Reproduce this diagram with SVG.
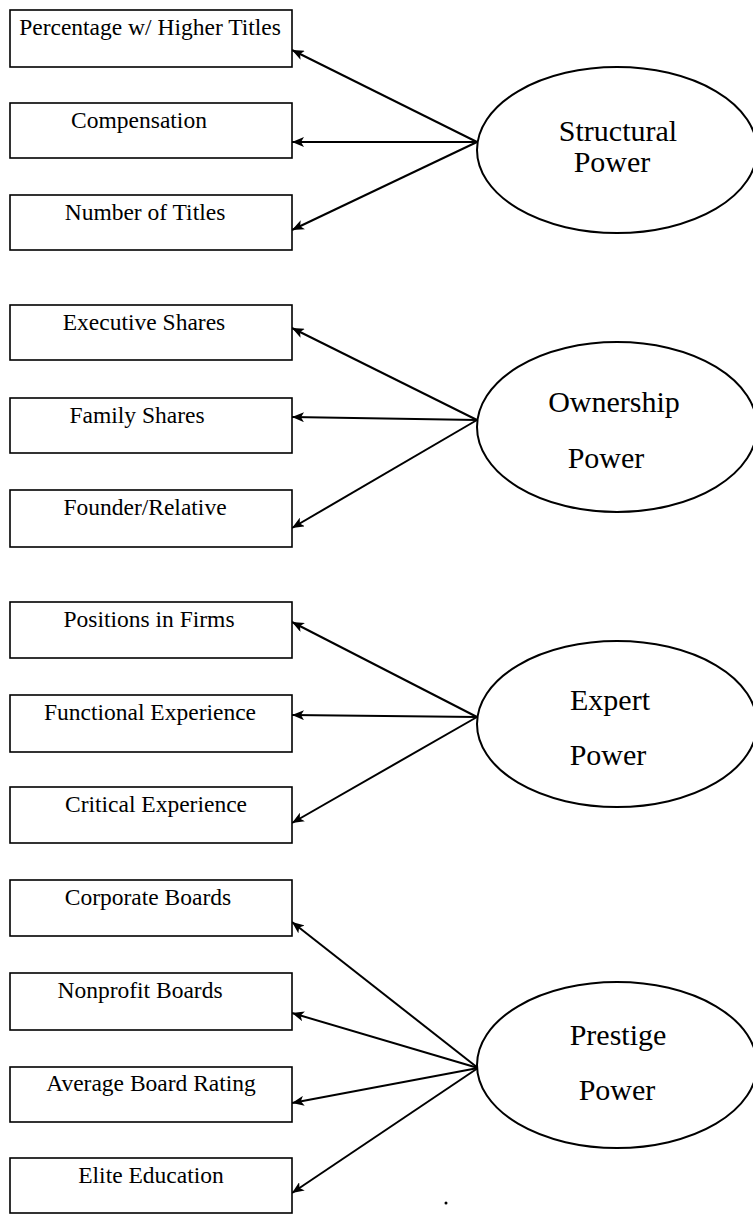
<svg xmlns="http://www.w3.org/2000/svg" width="753" height="1214" viewBox="0 0 753 1214">
<style>
.box{fill:#fff;stroke:#000;stroke-width:1.6}
.lat{fill:#fff;stroke:#000;stroke-width:2}
.t{font-family:"Liberation Serif","Times New Roman",serif;font-size:23.5px;fill:#000;text-anchor:middle}
.lt{font-family:"Liberation Serif","Times New Roman",serif;font-size:30px;fill:#000;text-anchor:middle}
.c{stroke:#000;stroke-width:2;fill:none;marker-end:url(#ah)}
</style>
<defs>
<marker id="ah" markerUnits="userSpaceOnUse" markerWidth="14" markerHeight="10" refX="12" refY="5" orient="auto">
<path d="M0,0 L12,5 L0,10 L3,5 z" fill="#000"/>
</marker>
</defs>
<rect width="753" height="1214" fill="#fff"/>
<g id="connectors">
<line class="c" x1="477" y1="142" x2="292" y2="50"/>
<line class="c" x1="477" y1="142" x2="292" y2="142"/>
<line class="c" x1="477" y1="142" x2="292" y2="230"/>
<line class="c" x1="477" y1="420" x2="292" y2="328"/>
<line class="c" x1="477" y1="420" x2="292" y2="417"/>
<line class="c" x1="477" y1="420" x2="292" y2="528"/>
<line class="c" x1="477" y1="717" x2="292" y2="622"/>
<line class="c" x1="477" y1="717" x2="292" y2="715"/>
<line class="c" x1="477" y1="717" x2="292" y2="823"/>
<line class="c" x1="478" y1="1068" x2="292" y2="922"/>
<line class="c" x1="478" y1="1068" x2="292" y2="1013"/>
<line class="c" x1="478" y1="1068" x2="292" y2="1103"/>
<line class="c" x1="478" y1="1068" x2="292" y2="1193"/>
</g>
<g id="n1"><rect class="box" x="10" y="10" width="282" height="57"/><text class="t" x="150" y="35">Percentage w/ Higher Titles</text></g>
<g id="n2"><rect class="box" x="10" y="103" width="282" height="55"/><text class="t" x="139" y="128">Compensation</text></g>
<g id="n3"><rect class="box" x="10" y="195" width="282" height="55"/><text class="t" x="145" y="220">Number of Titles</text></g>
<g id="n4"><rect class="box" x="10" y="305" width="282" height="55"/><text class="t" x="144" y="330">Executive Shares</text></g>
<g id="n5"><rect class="box" x="10" y="398" width="282" height="55"/><text class="t" x="137" y="423">Family Shares</text></g>
<g id="n6"><rect class="box" x="10" y="490" width="282" height="57"/><text class="t" x="145" y="515">Founder/Relative</text></g>
<g id="n7"><rect class="box" x="10" y="602" width="282" height="56"/><text class="t" x="149" y="627">Positions in Firms</text></g>
<g id="n8"><rect class="box" x="10" y="695" width="282" height="57"/><text class="t" x="150" y="720">Functional Experience</text></g>
<g id="n9"><rect class="box" x="10" y="787" width="282" height="56"/><text class="t" x="156" y="812">Critical Experience</text></g>
<g id="n10"><rect class="box" x="10" y="880" width="282" height="56"/><text class="t" x="148" y="905">Corporate Boards</text></g>
<g id="n11"><rect class="box" x="10" y="973" width="282" height="57"/><text class="t" x="140" y="998">Nonprofit Boards</text></g>
<g id="n12"><rect class="box" x="10" y="1067" width="282" height="55"/><text class="t" x="151" y="1091">Average Board Rating</text></g>
<g id="n13"><rect class="box" x="10" y="1158" width="282" height="55"/><text class="t" x="151" y="1183">Elite Education</text></g>
<g id="structural"><ellipse class="lat" cx="617" cy="150" rx="140" ry="83"/><text class="lt" x="618" y="141">Structural</text><text class="lt" x="612" y="172">Power</text></g>
<g id="ownership"><ellipse class="lat" cx="617" cy="427" rx="140" ry="85"/><text class="lt" x="614" y="412">Ownership</text><text class="lt" x="606" y="468">Power</text></g>
<g id="expert"><ellipse class="lat" cx="617" cy="724" rx="140" ry="83"/><text class="lt" x="610" y="710">Expert</text><text class="lt" x="608" y="765">Power</text></g>
<g id="prestige"><ellipse class="lat" cx="617" cy="1065" rx="140" ry="83"/><text class="lt" x="618" y="1045">Prestige</text><text class="lt" x="617" y="1100">Power</text></g>
<circle cx="446" cy="1203" r="1.5" fill="#000"/>
</svg>
